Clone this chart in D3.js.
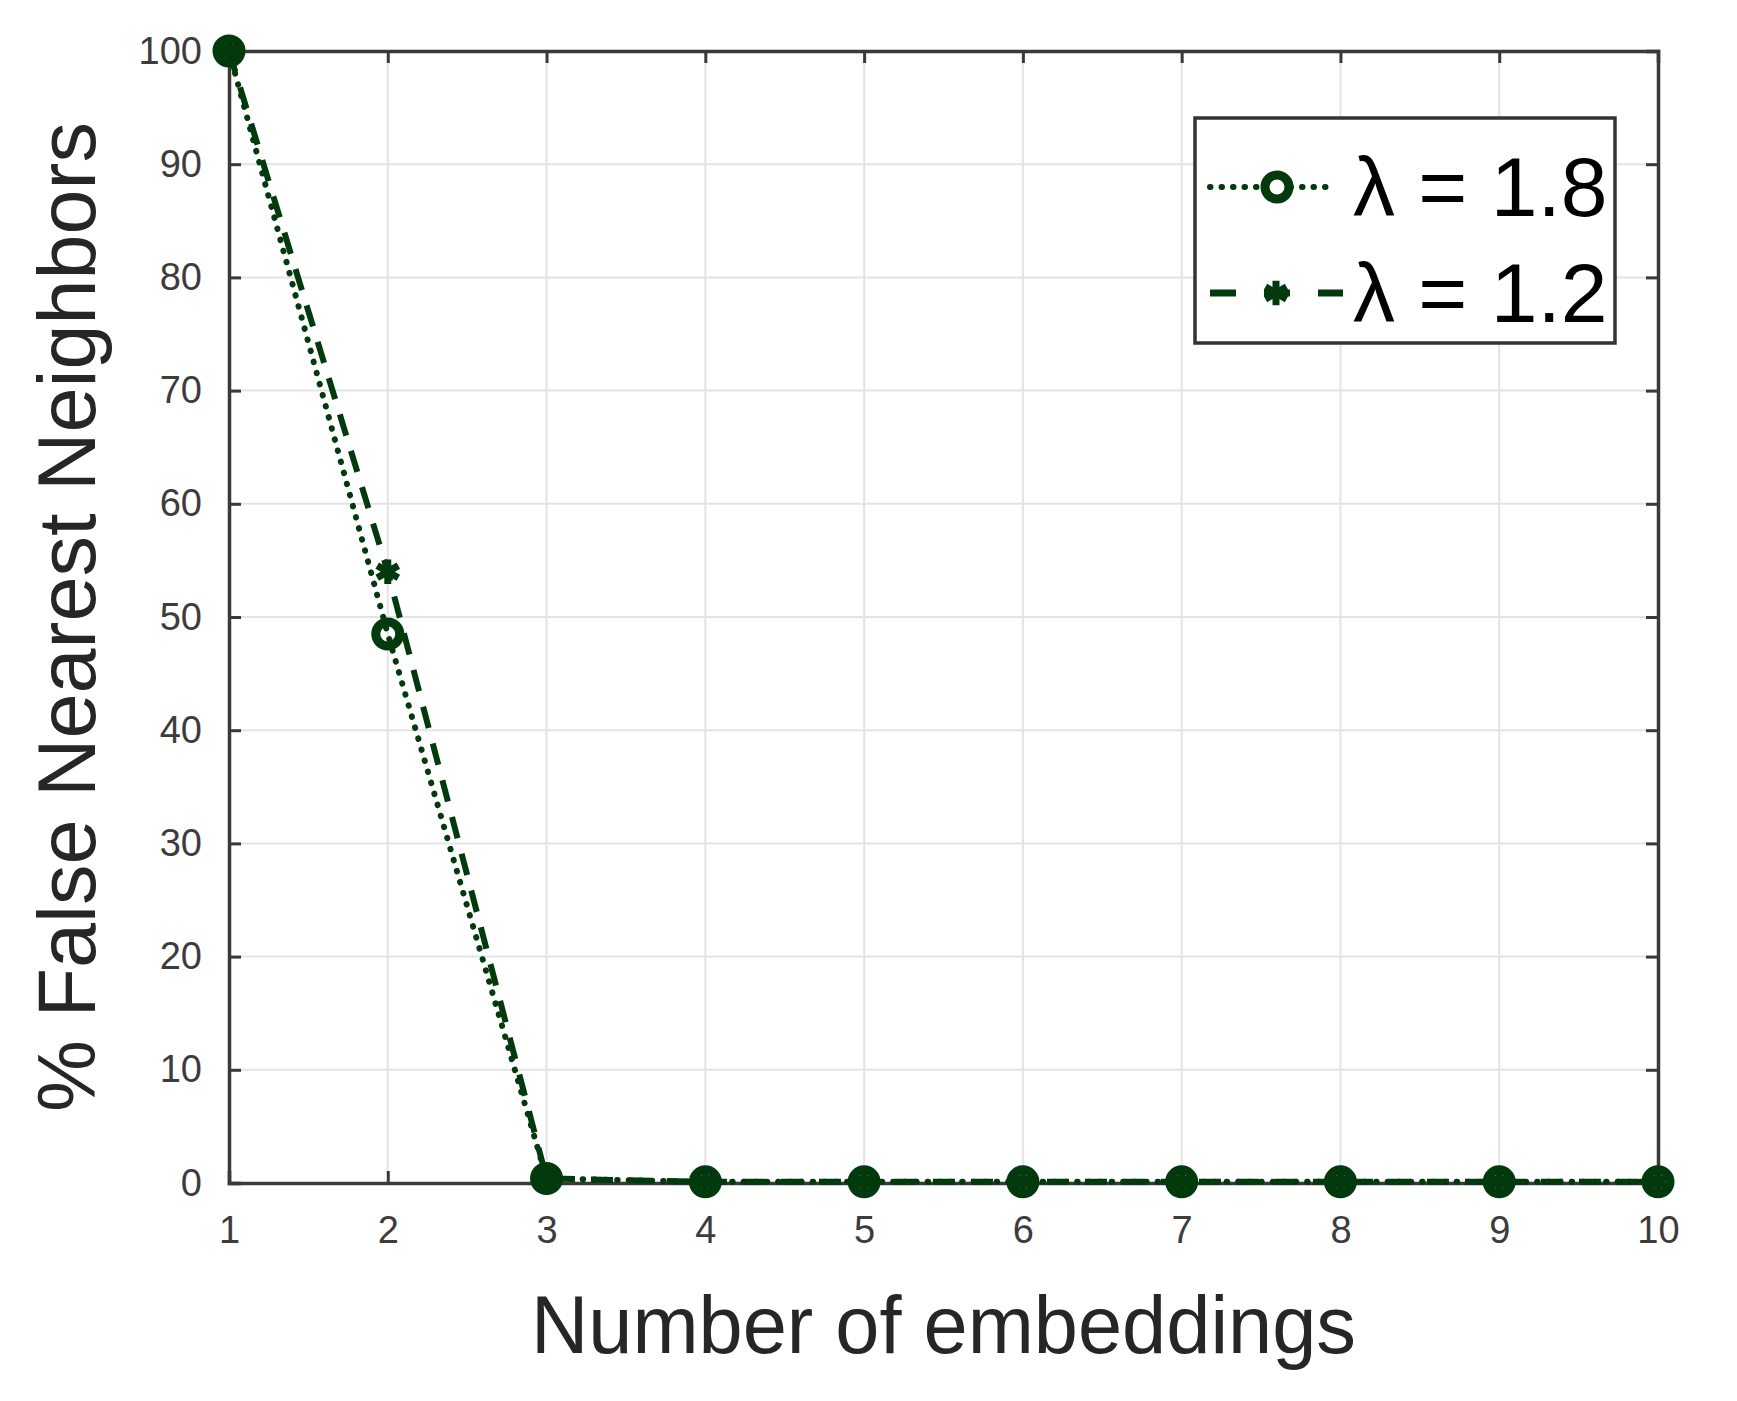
<!DOCTYPE html>
<html>
<head>
<meta charset="utf-8">
<script src="https://cdn.jsdelivr.net/npm/d3@7"></script>
<style>
  body { margin: 0; background: #fff; }
  svg { font-family: "Liberation Sans", Arial, sans-serif; }
</style>
</head>
<body>
<svg width="1737" height="1401"></svg>
<script>
// data
var embeddings = [1, 2, 3, 4, 5, 6, 7, 8, 9, 10];
var fnn18 = [100, 48.5, 0.4, 0.1, 0.1, 0.1, 0.1, 0.1, 0.1, 0.1];
var fnn12 = [100, 54, 0.4, 0.1, 0.1, 0.1, 0.1, 0.1, 0.1, 0.1];
var yTicks = [0, 10, 20, 30, 40, 50, 60, 70, 80, 90, 100];
var seriesNames = ["\u03BB = 1.8", "\u03BB = 1.2"];

var lineColor = "#023a0e";
var svg = d3.select("svg");
var pL = 229, pR = 1658, pT = 51, pB = 1183;

var x = d3.scaleLinear().domain([1, 10]).range([pL, pR]);
var y = d3.scaleLinear().domain([0, 100]).range([pB, pT]);

// grid
svg.append("g").selectAll("line").data(embeddings).enter().append("line")
  .attr("x1", d => x(d)).attr("x2", d => x(d)).attr("y1", pT).attr("y2", pB)
  .attr("stroke", "#e3e3e3").attr("stroke-width", 2);
svg.append("g").selectAll("line").data(yTicks).enter().append("line")
  .attr("y1", d => y(d)).attr("y2", d => y(d)).attr("x1", pL).attr("x2", pR)
  .attr("stroke", "#e3e3e3").attr("stroke-width", 2);

// axes, ticks pointing in
var xAxis = svg.append("g").attr("transform", "translate(0," + pB + ")")
  .call(d3.axisBottom(x).tickValues(embeddings).tickFormat(d3.format("d")).tickSize(-12).tickPadding(33));
var yAxis = svg.append("g").attr("transform", "translate(" + pL + ",0)")
  .call(d3.axisLeft(y).tickValues(yTicks).tickSize(-12).tickPadding(27));
var xTop = svg.append("g").attr("transform", "translate(0," + pT + ")")
  .call(d3.axisTop(x).tickValues(embeddings).tickFormat("").tickSize(-12));
var yRight = svg.append("g").attr("transform", "translate(" + pR + ",0)")
  .call(d3.axisRight(y).tickValues(yTicks).tickFormat("").tickSize(-12));

[xAxis, yAxis, xTop, yRight].forEach(function(g) {
  g.selectAll(".domain").attr("stroke", "#3a3a3a").attr("stroke-width", 3.5);
  g.selectAll(".tick line").attr("stroke", "#3a3a3a").attr("stroke-width", 3);
  g.selectAll("text").attr("fill", "#3c3c3c").style("font-size", "38px");
});

// lines
var lineGen = d3.line().x((d, i) => x(embeddings[i])).y(d => y(d));
svg.append("path").datum(fnn12).attr("d", lineGen)
  .attr("fill", "none").attr("stroke", lineColor).attr("stroke-width", 6)
  .attr("stroke-dasharray", "22,16");
svg.append("path").datum(fnn18).attr("d", lineGen)
  .attr("fill", "none").attr("stroke", lineColor).attr("stroke-width", 6)
  .attr("stroke-linecap", "round").attr("stroke-dasharray", "0.5,11");

// markers
var star = d3.symbol().type(d3.symbolAsterisk).size(420);
svg.append("g").selectAll("path").data(fnn12).enter().append("path")
  .attr("d", star)
  .attr("transform", (d, i) => "translate(" + x(embeddings[i]) + "," + y(d) + ")")
  .attr("fill", "none").attr("stroke", lineColor).attr("stroke-width", 7);
svg.append("g").selectAll("circle").data(fnn18).enter().append("circle")
  .attr("cx", (d, i) => x(embeddings[i])).attr("cy", d => y(d)).attr("r", 12)
  .attr("fill", "none").attr("stroke", lineColor).attr("stroke-width", 9);

// legend
var lg = svg.append("g");
lg.append("rect").attr("x", 1195).attr("y", 118).attr("width", 420).attr("height", 225)
  .attr("fill", "#fff").attr("stroke", "#333").attr("stroke-width", 3.5);
var rows = [187, 293];
lg.append("line").attr("x1", 1210).attr("x2", 1335).attr("y1", rows[0]).attr("y2", rows[0])
  .attr("stroke", lineColor).attr("stroke-width", 6).attr("stroke-linecap", "round").attr("stroke-dasharray", "0.5,11");
lg.append("circle").attr("cx", 1277).attr("cy", rows[0]).attr("r", 12)
  .attr("fill", "#fff").attr("stroke", lineColor).attr("stroke-width", 9);
lg.append("line").attr("x1", 1210).attr("x2", 1343).attr("y1", rows[1]).attr("y2", rows[1])
  .attr("stroke", lineColor).attr("stroke-width", 7).attr("stroke-dasharray", "26,28");
lg.append("path").attr("d", star).attr("transform", "translate(1276," + rows[1] + ")")
  .attr("fill", "none").attr("stroke", lineColor).attr("stroke-width", 7);
lg.selectAll("text").data(seriesNames).enter().append("text")
  .attr("x", 1353).attr("y", (d, i) => rows[i]).attr("dy", "0.35em")
  .style("font-size", "84px").attr("fill", "#000").text(d => d);

// axis titles
svg.append("text").attr("x", (pL + pR) / 2).attr("y", 1353)
  .attr("text-anchor", "middle").style("font-size", "82px").attr("fill", "#262626")
  .attr("textLength", 825).attr("lengthAdjust", "spacingAndGlyphs")
  .text("Number of embeddings");
svg.append("text").attr("transform", "translate(95," + ((pT + pB) / 2) + ") rotate(-90)")
  .attr("text-anchor", "middle").style("font-size", "82px").attr("fill", "#262626")
  .attr("textLength", 990).attr("lengthAdjust", "spacingAndGlyphs")
  .text("% False Nearest Neighbors");
</script>
</body>
</html>
